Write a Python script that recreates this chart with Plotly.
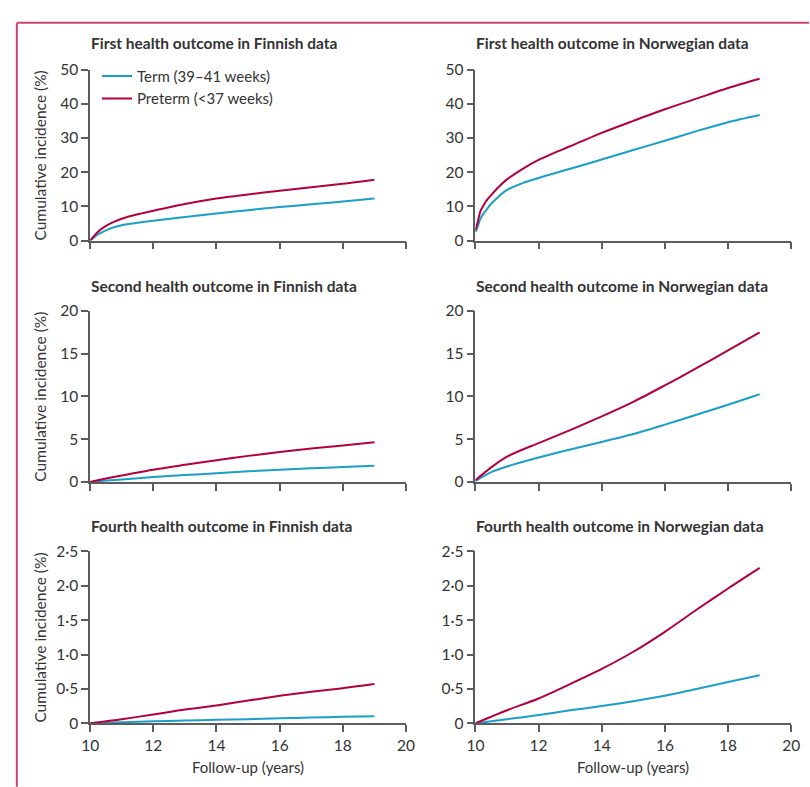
import plotly.graph_objects as go

W, H = 810, 787

# ---------------- data ----------------
fin1_years = [10, 10.25, 10.5, 10.75, 11, 11.5, 12, 13, 14, 15, 16, 17, 18, 19]
fin1_term = [0, 1.8, 3.0, 3.9, 4.5, 5.2, 5.8, 6.9, 7.9, 8.9, 9.8, 10.6, 11.4, 12.3]
fin1_pre = [0, 2.6, 4.3, 5.5, 6.4, 7.7, 8.7, 10.7, 12.3, 13.5, 14.6, 15.6, 16.6, 17.8]

nor1_years = [10, 10.05, 10.1, 10.15, 10.25, 10.35, 10.5, 10.75, 11, 11.5, 12, 13, 14, 15, 16, 17, 18, 19]
nor1_term = [2.5, 3.5, 4.8, 6.2, 7.8, 9.0, 10.8, 13.0, 14.8, 16.8, 18.3, 21.0, 23.7, 26.5, 29.2, 32.0, 34.6, 36.7]
nor1_pre = [3.0, 4.6, 6.5, 8.4, 10.2, 11.7, 13.3, 15.8, 17.9, 21.0, 23.6, 27.6, 31.5, 35.0, 38.4, 41.5, 44.6, 47.3]

fin2_years = [10, 10.5, 11, 12, 13, 14, 15, 16, 17, 18, 19]
fin2_term = [0, 0.16, 0.3, 0.57, 0.8, 1.02, 1.24, 1.44, 1.6, 1.75, 1.9]
fin2_pre = [0, 0.4, 0.76, 1.44, 2.0, 2.54, 3.05, 3.5, 3.9, 4.25, 4.63]

nor2_years = [10, 10.5, 11, 12, 13, 14, 15, 16, 17, 18, 19]
nor2_term = [0.1, 1.14, 1.8, 2.85, 3.8, 4.67, 5.6, 6.7, 7.86, 9.03, 10.25]
nor2_pre = [0.2, 1.7, 2.96, 4.55, 6.07, 7.67, 9.37, 11.3, 13.3, 15.4, 17.5]

fin4_years = [10, 11, 12, 13, 14, 15, 16, 17, 18, 19]
fin4_term = [0, 0.015, 0.03, 0.04, 0.05, 0.06, 0.072, 0.084, 0.095, 0.104]
fin4_pre = [0, 0.06, 0.128, 0.2, 0.26, 0.33, 0.40, 0.46, 0.51, 0.57]

nor4_years = [10, 11, 12, 13, 14, 15, 16, 17, 18, 19]
nor4_term = [0, 0.06, 0.12, 0.19, 0.25, 0.32, 0.40, 0.50, 0.60, 0.70]
nor4_pre = [0, 0.19, 0.36, 0.57, 0.79, 1.04, 1.33, 1.65, 1.96, 2.26]

panel_titles = [
    "First health outcome in Finnish data", "First health outcome in Norwegian data",
    "Second health outcome in Finnish data", "Second health outcome in Norwegian data",
    "Fourth health outcome in Finnish data", "Fourth health outcome in Norwegian data",
]
series_names = ["Term (39–41 weeks)", "Preterm (<37 weeks)"]

x_tickvals = [10, 12, 14, 16, 18, 20]
x_ticktext = ["10", "12", "14", "16", "18", "20"]
y1_tickvals = [0, 10, 20, 30, 40, 50]
y2_tickvals = [0, 5, 10, 15, 20]
y4_tickvals = [0, 0.5, 1.0, 1.5, 2.0, 2.5]
y4_ticktext = ["0", "0·5", "1·0", "1·5", "2·0", "2·5"]

x_title = "Follow-up (years)"
y_title = "Cumulative incidence (%)"

# ---------------- style ----------------
TERM_C = "#1a9fc9"
PRE_C = "#b4003c"
AXIS_C = "#5c5c5c"
TEXT_C = "#333333"
BORDER_C = "#cf3f70"
FONT = "Lato, 'Noto Sans', sans-serif"

col_px = [(83, 406), (477, 800)]
row_px = [(61, 236), (308, 483), (554, 730)]
title_py = [34, 282, 528]

panels = [
    (fin1_years, fin1_term, fin1_pre, 0, 0),
    (nor1_years, nor1_term, nor1_pre, 0, 1),
    (fin2_years, fin2_term, fin2_pre, 1, 0),
    (nor2_years, nor2_term, nor2_pre, 1, 1),
    (fin4_years, fin4_term, fin4_pre, 2, 0),
    (nor4_years, nor4_term, nor4_pre, 2, 1),
]
yranges = [[0, 50], [0, 20], [0, 2.5]]
ytickvals = [y1_tickvals, y2_tickvals, y4_tickvals]
yticktext = [[str(v) for v in y1_tickvals], [str(v) for v in y2_tickvals], y4_ticktext]

fig = go.Figure()
layout = dict(
    width=W, height=H, margin=dict(l=0, r=0, t=0, b=0),
    paper_bgcolor="white", plot_bgcolor="white",
    font=dict(family=FONT, color=TEXT_C, size=15),
    showlegend=True,
    legend=dict(x=90 / W, y=1 - 51 / H, xanchor="left", yanchor="top",
                bgcolor="rgba(0,0,0,0)", font=dict(size=15, color=TEXT_C),
                tracegroupgap=0, itemwidth=30),
)
annotations = []
shapes = []

for i, (yrs, term, pre, r, c) in enumerate(panels):
    idx = i + 1
    xa = "x" if idx == 1 else f"x{idx}"
    ya = "y" if idx == 1 else f"y{idx}"
    show = (i == 0)
    fig.add_trace(go.Scatter(x=yrs, y=term, mode="lines", name=series_names[0],
                             line=dict(color=TERM_C, width=2, shape="spline", smoothing=0.8),
                             xaxis=xa, yaxis=ya, showlegend=show, legendrank=1))
    fig.add_trace(go.Scatter(x=yrs, y=pre, mode="lines", name=series_names[1],
                             line=dict(color=PRE_C, width=2, shape="spline", smoothing=0.8),
                             xaxis=xa, yaxis=ya, showlegend=show, legendrank=2))
    x0, x1 = col_px[c]
    y0, y1 = row_px[r]
    xkey = "xaxis" if idx == 1 else f"xaxis{idx}"
    ykey = "yaxis" if idx == 1 else f"yaxis{idx}"
    layout[xkey] = dict(
        domain=[x0 / W, x1 / W], anchor=ya, range=[10, 20],
        tickmode="array", tickvals=x_tickvals, ticktext=x_ticktext,
        showticklabels=(r == 2), ticks="outside", ticklen=7, tickwidth=1.5,
        tickcolor=AXIS_C, showline=True, linecolor=AXIS_C, linewidth=1.5,
        showgrid=False, zeroline=False, fixedrange=True,
        tickfont=dict(size=15.5, color=TEXT_C),
    )
    layout[ykey] = dict(
        domain=[1 - y1 / H, 1 - y0 / H], anchor=xa, range=yranges[r],
        tickmode="array", tickvals=ytickvals[r], ticktext=yticktext[r],
        ticks="outside", ticklen=7, tickwidth=1.5, tickcolor=AXIS_C,
        showline=True, linecolor=AXIS_C, linewidth=1.5,
        showgrid=False, zeroline=False, fixedrange=True,
        tickfont=dict(size=15.5, color=TEXT_C),
    )
    annotations.append(dict(
        text="<b>" + panel_titles[i] + "</b>", xref="paper", yref="paper",
        x=x0 / W - 1 / W, y=1 - title_py[r] / H, xanchor="left", yanchor="middle",
        showarrow=False, font=dict(size=15.5, color=TEXT_C, family=FONT),
    ))

for r in range(3):
    y0, y1 = row_px[r]
    annotations.append(dict(
        text=y_title, xref="paper", yref="paper", x=32 / W, y=1 - (y0 + y1) / 2 / H,
        xanchor="center", yanchor="middle", textangle=-90, showarrow=False,
        font=dict(size=15.5, color=TEXT_C),
    ))
for c in range(2):
    x0, x1 = col_px[c]
    annotations.append(dict(
        text=x_title, xref="paper", yref="paper", x=(x0 + x1) / 2 / W, y=1 - 775 / H,
        xanchor="center", yanchor="middle", showarrow=False,
        font=dict(size=15, color=TEXT_C),
    ))

# pink frame (top and left)
shapes.append(dict(type="line", xref="paper", yref="paper", x0=8 / W, x1=1.01,
                   y0=1 - 13 / H, y1=1 - 13 / H, line=dict(color=BORDER_C, width=2)))
shapes.append(dict(type="line", xref="paper", yref="paper", x0=8 / W, x1=8 / W,
                   y0=1 - 13 / H, y1=-0.01, line=dict(color=BORDER_C, width=2)))

layout["annotations"] = annotations
layout["shapes"] = shapes
fig.update_layout(**layout)
fig.write_html(
    "out.html",
    config={"displayModeBar": False},
    post_script="document.body.style.margin='0';document.body.style.overflow='hidden';",
)
